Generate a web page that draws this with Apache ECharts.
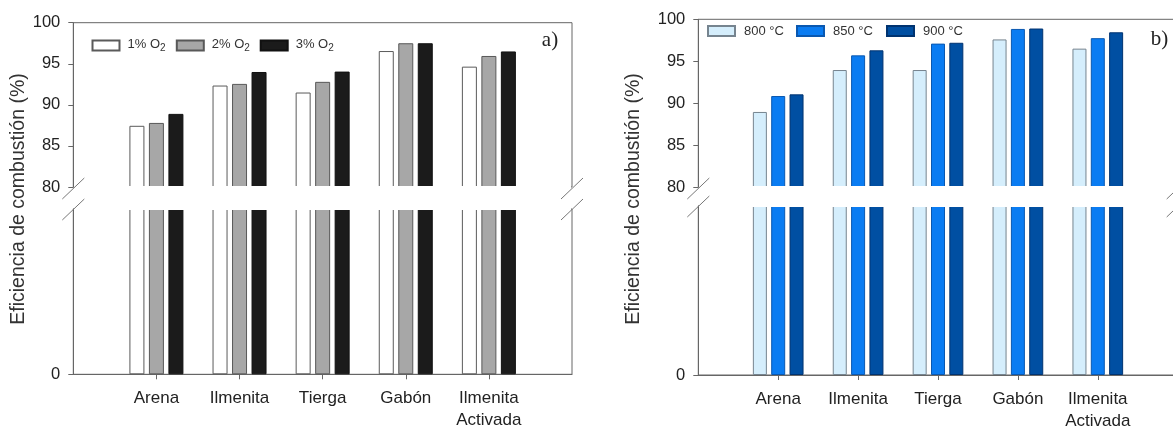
<!DOCTYPE html>
<html>
<head>
<meta charset="utf-8">
<script src="https://cdn.jsdelivr.net/npm/echarts@6/dist/echarts.min.js"></script>
<style>
  html, body { margin: 0; padding: 0; background: #fff; }
  #chart { width: 1173px; height: 428px; }
</style>
</head>
<body>
<div id="chart"></div>
<script>
// Categories (materials) shared by both panels
const categories = ['Arena', 'Ilmenita', 'Tierga', 'Gabón', 'Ilmenita\nActivada'];

// Panel a) combustion efficiency (%) by O2 concentration
const o2Names = ['1% O2', '2% O2', '3% O2'];
const o2_1 = [87.45, 92.35, 91.5, 96.55, 94.65];
const o2_2 = [87.8, 92.55, 92.8, 97.5, 95.95];
const o2_3 = [88.9, 94.0, 94.05, 97.5, 96.5];

// Panel b) combustion efficiency (%) by temperature
const tempNames = ['800 °C', '850 °C', '900 °C'];
const t800 = [88.95, 93.95, 93.95, 97.6, 96.5];
const t850 = [90.85, 95.7, 97.1, 98.85, 97.75];
const t900 = [91.05, 96.3, 97.2, 98.9, 98.45];

// Broken value axis: upper segment 80-100, lower segment 0-80 (only 0 labelled)
const upperMin = 80, upperMax = 100, upperStep = 5;
const lowerMin = 0, lowerMax = 80;
const lowerTicks = [0];

const yTitle = 'Eficiencia de combustión (%)';

// ---- layout ----
const panels = [
  { key: 'a', left: 73.3, width: 498.7, upTop: 22.7, upBottom: 187, lowTop: 209, lowBottom: 374.3,
    barWidth: 15, barGap: '30%', titleX: 19, titleY: 199, tagX: 550, tagY: 40,
    legendLefts: [91.5, 175.8, 259.7], legendTop: 35, legendTextPad: 3 },
  { key: 'b', left: 698.3, width: 479.4, upTop: 19.3, upBottom: 187, lowTop: 206, lowBottom: 375,
    barWidth: 14, barGap: '31%', titleX: 634, titleY: 199, tagX: 1159.5, tagY: 39,
    legendLefts: [707, 796, 886], legendTop: 24.5, legendTextPad: 4 }
];

const seriesStyles = {
  a: [
    { color: '#ffffff', borderColor: '#5a5a5a' },
    { color: '#a7a7a7', borderColor: '#585858' },
    { color: '#1b1b1b', borderColor: '#111111' }
  ],
  b: [
    { color: '#d5eefc', borderColor: '#76848f' },
    { color: '#0a7cf2', borderColor: '#0a58b0' },
    { color: '#004fa2', borderColor: '#003370' }
  ]
};

const sans = '"Liberation Sans", Arial, sans-serif';
const serif = '"Liberation Serif", "Times New Roman", serif';
const axisColor = '#666';
const textColor = '#222';

const paddedCats = [''].concat(categories, ['']);
const padData = vals => ['-'].concat(vals, ['-']);

const grids = [], xAxes = [], yAxes = [], series = [], legends = [], graphics = [];

const panelSeries = {
  a: { names: o2Names, values: [o2_1, o2_2, o2_3] },
  b: { names: tempNames, values: [t800, t850, t900] }
};

panels.forEach((p) => {
  const gridBase = { show: true, borderColor: axisColor, borderWidth: 1, backgroundColor: 'transparent',
    containLabel: false, outerBoundsMode: 'none' };
  const gUp = grids.length;
  grids.push(Object.assign({ left: p.left, top: p.upTop, width: p.width, height: p.upBottom - p.upTop }, gridBase));
  const gLow = grids.length;
  grids.push(Object.assign({ left: p.left, top: p.lowTop, width: p.width, height: p.lowBottom - p.lowTop }, gridBase));

  // upper x axis: frame only
  xAxes.push({ type: 'category', gridIndex: gUp, data: paddedCats, boundaryGap: false, position: 'bottom',
    axisLine: { show: false }, axisTick: { show: false }, axisLabel: { show: false }, splitLine: { show: false } });
  // lower x axis: category labels
  xAxes.push({ type: 'category', gridIndex: gLow, data: paddedCats, boundaryGap: false, position: 'bottom',
    axisLine: { show: true, lineStyle: { color: axisColor, width: 1 } },
    axisTick: { show: true, length: 5, interval: (i) => i > 0 && i < paddedCats.length - 1,
      lineStyle: { color: axisColor } },
    axisLabel: { interval: 0, margin: 13, color: textColor, fontFamily: sans, fontSize: 17, lineHeight: 22 },
    splitLine: { show: false } });

  yAxes.push({ type: 'value', gridIndex: gUp, min: upperMin, max: upperMax, interval: upperStep,
    axisLine: { show: true, lineStyle: { color: axisColor } },
    axisTick: { show: true, length: 5, lineStyle: { color: axisColor } },
    axisLabel: { margin: 13, color: textColor, fontFamily: sans, fontSize: 16.5 },
    splitLine: { show: false } });
  yAxes.push({ type: 'value', gridIndex: gLow, min: lowerMin, max: lowerMax,
    axisLine: { show: true, lineStyle: { color: axisColor } },
    axisTick: { show: true, length: 5, customValues: lowerTicks, lineStyle: { color: axisColor } },
    axisLabel: { margin: 13, customValues: lowerTicks, color: textColor, fontFamily: sans, fontSize: 16.5 },
    splitLine: { show: false } });

  const ps = panelSeries[p.key];
  ps.names.forEach((name, si) => {
    const st = seriesStyles[p.key][si];
    const common = {
      type: 'bar', name, barWidth: p.barWidth, barGap: p.barGap, clip: true,
      itemStyle: { color: st.color, borderColor: st.borderColor, borderWidth: 1 },
      data: padData(ps.values[si])
    };
    series.push(Object.assign({}, common, { xAxisIndex: gUp, yAxisIndex: gUp }));
    series.push(Object.assign({}, common, { xAxisIndex: gLow, yAxisIndex: gLow }));

    const isO2 = p.key === 'a';
    legends.push({
      data: [name], left: p.legendLefts[si], top: p.legendTop, padding: 0,
      itemWidth: 27, itemHeight: 10, icon: 'rect', selectedMode: false,
      formatter: isO2 ? (n => '{t|' + n.slice(0, -1) + '}{s|' + n.slice(-1) + '}') : (n => n),
      textStyle: {
        color: '#333', fontFamily: sans, fontSize: 13, padding: [0, 0, 0, p.legendTextPad],
        rich: isO2 ? {
          t: { fontFamily: sans, fontSize: 13, color: '#333', verticalAlign: 'top', lineHeight: 15 },
          s: { fontFamily: sans, fontSize: 10, color: '#333', verticalAlign: 'bottom', lineHeight: 10, padding: [8, 0, 0, 0] }
        } : undefined
      }
    });
  });

  // gap of the broken axis, on its own layer above the bars
  graphics.push({ type: 'rect', zlevel: 1, z: 1, silent: true,
    shape: { x: Math.ceil(p.left), y: p.upBottom - 1, width: Math.floor(p.width) - 1, height: (p.lowTop - p.upBottom) + 2 },
    style: { fill: '#ffffff' } });
  // break marks on both sides
  [p.left, p.left + p.width].forEach(x => {
    [p.upBottom + 1.5, p.lowTop + 0.5].forEach(cy => {
      graphics.push({ type: 'line', zlevel: 1, z: 2, silent: true,
        shape: { x1: x - 11, y1: cy + 10.5, x2: x + 11, y2: cy - 10.5 },
        style: { stroke: '#777', lineWidth: 1 } });
    });
  });
  // axis title
  graphics.push({ type: 'text', z: 60, silent: true, x: p.titleX, y: p.titleY, rotation: Math.PI / 2,
    style: { text: yTitle, fontFamily: sans, fontSize: 19.5, fill: '#333', align: 'center', verticalAlign: 'middle' } });
  // panel tag
  graphics.push({ type: 'text', z: 60, silent: true, x: p.tagX, y: p.tagY,
    style: { text: p.key + ')', fontFamily: serif, fontSize: 21, fill: '#222', align: 'center', verticalAlign: 'middle' } });
});

const chart = echarts.init(document.getElementById('chart'), null, { renderer: 'canvas' });
chart.setOption({
  animation: false,
  backgroundColor: '#ffffff',
  grid: grids,
  xAxis: xAxes,
  yAxis: yAxes,
  legend: legends,
  series: series,
  graphic: graphics
});
</script>
</body>
</html>
